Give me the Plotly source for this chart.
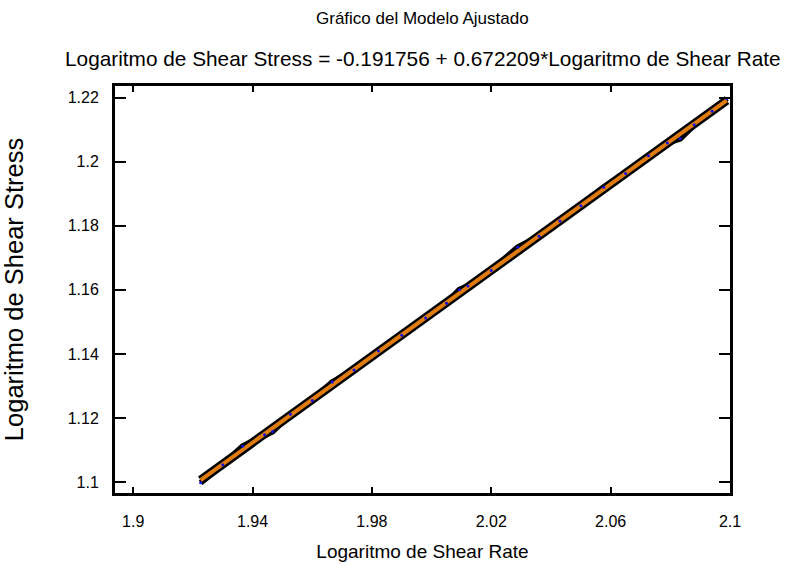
import plotly.graph_objects as go

log_shear_rate = [1.9226, 1.9300, 1.9367, 1.9440, 1.9467, 1.9527, 1.9600, 1.9667, 1.9740,
                  1.9822, 1.9900, 1.9980, 2.0050, 2.0093, 2.0122, 2.0200, 2.0289, 2.0360,
                  2.0430, 2.0500, 2.0577, 2.0650, 2.0727, 2.0790, 2.0833, 2.0880, 2.0940, 2.0989]
log_shear_stress = [1.0998, 1.1054, 1.1112, 1.1148, 1.1158, 1.1212, 1.1255, 1.1312, 1.1350,
                    1.1409, 1.1458, 1.1512, 1.1558, 1.1600, 1.1612, 1.1660, 1.1733, 1.1767,
                    1.1815, 1.1862, 1.1920, 1.1963, 1.2018, 1.2058, 1.2072, 1.2115, 1.2157, 1.2197]

intercept = -0.191756
slope = 0.672209
fitted = [intercept + slope * x for x in log_shear_rate]

x_ticks = [1.9, 1.94, 1.98, 2.02, 2.06, 2.1]
x_tick_text = ["1.9", "1.94", "1.98", "2.02", "2.06", "2.1"]
y_ticks = [1.1, 1.12, 1.14, 1.16, 1.18, 1.2, 1.22]
y_tick_text = ["1.1", "1.12", "1.14", "1.16", "1.18", "1.2", "1.22"]

fig = go.Figure()
fig.add_trace(go.Scatter(x=log_shear_rate, y=fitted, mode="lines",
                         line=dict(color="black", width=9), hoverinfo="skip"))
fig.add_trace(go.Scatter(x=log_shear_rate, y=log_shear_stress, mode="lines",
                         line=dict(color="black", width=6), hoverinfo="skip"))
fig.add_trace(go.Scatter(x=log_shear_rate, y=fitted, mode="lines",
                         line=dict(color="#E07B10", width=4)))
fig.add_trace(go.Scatter(x=log_shear_rate, y=log_shear_stress, mode="markers",
                         marker=dict(color="#1010F0", size=3)))

font_family = "Liberation Sans, Arial, sans-serif"
fig.update_layout(
    width=792, height=572,
    margin=dict(l=112, r=62, t=86, b=78),
    paper_bgcolor="white", plot_bgcolor="white",
    showlegend=False,
    font=dict(family=font_family, color="black", size=16),
    annotations=[
        dict(text="Gráfico del Modelo Ajustado", xref="paper", yref="paper",
             x=0.5, y=1, yshift=68, showarrow=False, font=dict(size=17),
             xanchor="center", yanchor="middle"),
        dict(text="Logaritmo de Shear Stress = -0.191756 + 0.672209*Logaritmo de Shear Rate",
             xref="paper", yref="paper", x=0.5, y=1, yshift=28, showarrow=False,
             font=dict(size=20.8), xanchor="center", yanchor="middle"),
    ],
    xaxis=dict(range=[1.8939, 2.1], tickvals=x_ticks, ticktext=x_tick_text,
               ticks="inside", ticklen=6, tickwidth=2, tickcolor="black",
               showline=True, linecolor="black", linewidth=3, mirror="ticks",
               showgrid=False, zeroline=False, ticklabelstandoff=12,
               title=dict(text="Logaritmo de Shear Rate", font=dict(size=19), standoff=16)),
    yaxis=dict(range=[1.0966, 1.2236], tickvals=y_ticks, ticktext=y_tick_text,
               ticks="inside", ticklen=11, tickwidth=2, tickcolor="black",
               showline=True, linecolor="black", linewidth=3, mirror="ticks",
               showgrid=False, zeroline=False, ticklabelstandoff=10,
               title=dict(text="Logaritmo de Shear Stress", font=dict(size=25.5), standoff=38)),
)

fig.write_html("out.html", config={"displayModeBar": False},
               post_script="document.body.style.margin='0';")
